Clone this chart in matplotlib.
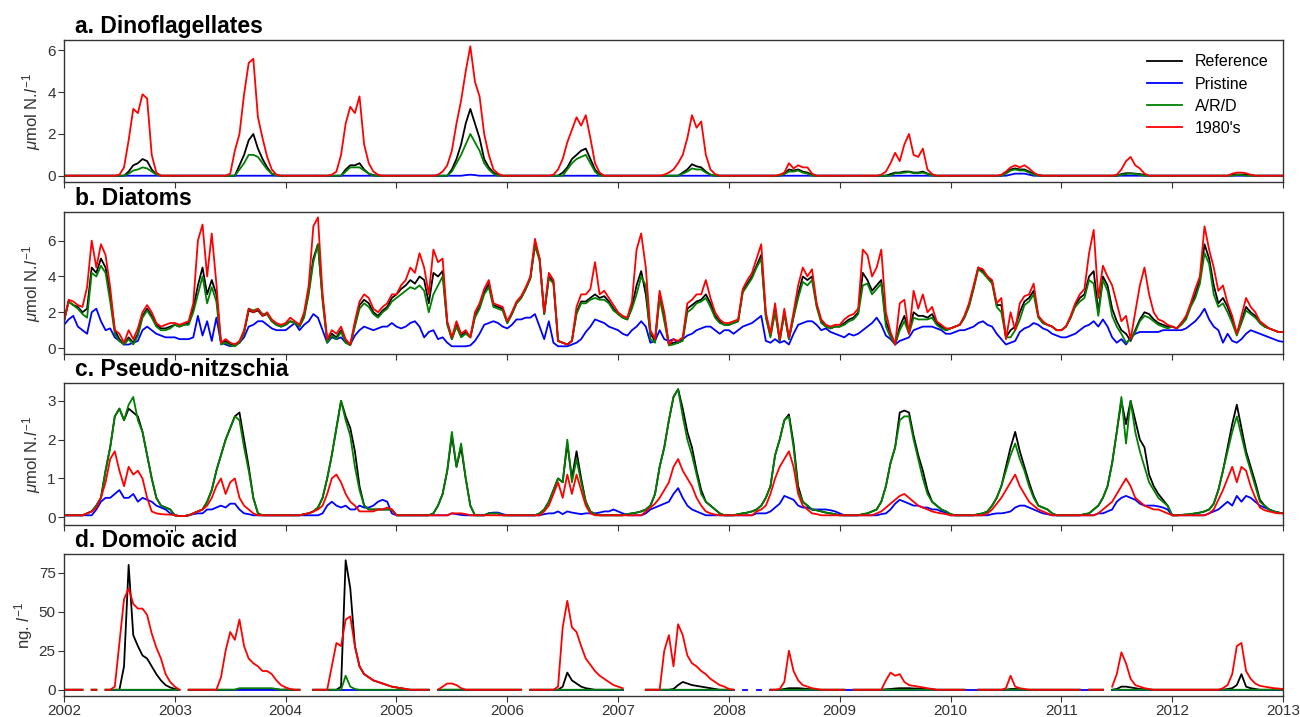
import numpy as np
import matplotlib
matplotlib.use('Agg')
import matplotlib.pyplot as plt

nan = float('nan')

# half-monthly samples, 2002.0 .. 2013.0 (265 points)
years = [2002, 2003, 2004, 2005, 2006, 2007, 2008, 2009, 2010, 2011, 2012, 2013]
series_labels = ['Reference', 'Pristine', 'A/R/D', "1980's"]
panel_titles = ['a. Dinoflagellates', 'b. Diatoms', 'c. Pseudo-nitzschia', 'd. Domoïc acid']

# ---------------- a. Dinoflagellates ----------------
dino_ref = [
 0,0,0,0,0,0,0,0,0,0,0,0,0,0, 0.2,0.5,0.6,0.8,0.7,0.3,0.05,0,0,0,
 0,0,0,0,0,0,0,0,0,0,0,0,0,0, 0.5,1.0,1.7,2.0,1.3,0.8,0.4,0.1,0.03,0,
 0,0,0,0,0,0,0,0,0,0,0,0,0, 0.3,0.5,0.5,0.6,0.3,0.1,0.03,0,0,0,0,
 0,0,0,0,0,0,0,0,0,0,0,0, 0.3,0.8,1.5,2.5,3.2,2.5,1.8,0.8,0.4,0.15,0.05,0,
 0,0,0,0,0,0,0,0,0,0,0,0, 0.15,0.4,0.8,1.0,1.2,1.3,0.8,0.3,0.05,0,0,0,
 0,0,0,0,0,0,0,0,0,0,0,0,0,0, 0.15,0.3,0.55,0.45,0.4,0.2,0.05,0,0,0,
 0,0,0,0,0,0,0,0,0,0,0,0, 0.1,0.3,0.25,0.3,0.2,0.15,0.05,0,0,0,0,0,
 0,0,0,0,0,0,0,0,0,0,0, 0.08,0.15,0.15,0.2,0.2,0.15,0.15,0.2,0.1,0.03,0,0,0,
 0,0,0,0,0,0,0,0,0,0,0,0, 0.15,0.3,0.35,0.3,0.3,0.2,0.1,0.03,0,0,0,0,
 0,0,0,0,0,0,0,0,0,0,0,0,0, 0.08,0.12,0.12,0.1,0.08,0.04,0,0,0,0,0,
 0,0,0,0,0,0,0,0,0,0,0,0,0, 0.05,0.06,0.06,0.05,0.03,0,0,0,0,0,0,0,
]
dino_pris = [
 0,0,0,0,0,0,0,0,0,0,0,0,0,0,0,0,0,0,0,0,0,0,0,0,
 0,0,0,0,0,0,0,0,0,0,0,0,0,0,0,0,0,0,0,0,0,0,0,0,
 0,0,0,0,0,0,0,0,0,0,0,0,0,0,0,0,0,0,0,0,0,0,0,0,
 0,0,0,0,0,0,0,0,0,0,0,0,0,0,0, 0.03,0.05,0.03, 0,0,0,0,0,0,
 0,0,0,0,0,0,0,0,0,0,0,0,0,0,0,0,0,0,0,0,0,0,0,0,
 0,0,0,0,0,0,0,0,0,0,0,0,0,0,0,0,0,0,0,0,0,0,0,0,
 0,0,0,0,0,0,0,0,0,0,0,0,0,0,0,0,0,0,0,0,0,0,0,0,
 0,0,0,0,0,0,0,0,0,0,0,0,0,0,0,0,0,0,0,0,0,0,0,0,
 0,0,0,0,0,0,0,0,0,0,0,0,0, 0.05,0.1,0.1,0.1,0.05, 0,0,0,0,0,0,
 0,0,0,0,0,0,0,0,0,0,0,0,0,0,0,0,0,0,0,0,0,0,0,0,
 0,0,0,0,0,0,0,0,0,0,0,0,0,0,0,0,0,0,0,0,0,0,0,0,0,
]
dino_ard = [
 0,0,0,0,0,0,0,0,0,0,0,0,0,0, 0.1,0.25,0.3,0.4,0.35,0.2,0.05,0,0,0,
 0,0,0,0,0,0,0,0,0,0,0,0,0,0, 0.3,0.6,1.0,1.0,0.9,0.6,0.3,0.1,0,0,
 0,0,0,0,0,0,0,0,0,0,0,0,0, 0.2,0.4,0.4,0.4,0.25,0.1,0,0,0,0,0,
 0,0,0,0,0,0,0,0,0,0,0,0, 0.2,0.6,1.0,1.5,2.0,1.6,1.2,0.6,0.3,0.1,0,0,
 0,0,0,0,0,0,0,0,0,0,0,0,0, 0.3,0.6,0.8,0.9,1.0,0.6,0.2,0,0,0,0,
 0,0,0,0,0,0,0,0,0,0,0,0,0,0, 0.1,0.2,0.35,0.3,0.3,0.15,0.05,0,0,0,
 0,0,0,0,0,0,0,0,0,0,0,0, 0.08,0.2,0.2,0.25,0.15,0.1,0,0,0,0,0,0,
 0,0,0,0,0,0,0,0,0,0,0,0, 0.12,0.12,0.15,0.18,0.12,0.12,0.15,0.08,0,0,0,0,
 0,0,0,0,0,0,0,0,0,0,0,0, 0.1,0.25,0.3,0.25,0.25,0.15,0.05,0,0,0,0,0,
 0,0,0,0,0,0,0,0,0,0,0,0,0, 0.05,0.08,0.1,0.08,0.05,0,0,0,0,0,0,
 0,0,0,0,0,0,0,0,0,0,0,0,0,0, 0.04,0.04, 0,0,0,0,0,0,0,0,0,
]
dino_1980 = [
 0,0,0,0,0,0,0,0,0,0,0,0, 0.05,0.4,1.7,3.2,3.0,3.9,3.7,1.0,0.15,0,0,0,
 0,0,0,0,0,0,0,0,0,0,0,0, 0.1,1.2,2.0,3.9,5.4,5.6,2.8,1.8,0.9,0.3,0.05,0,
 0,0,0,0,0,0,0,0,0,0, 0.05,0.2,1.0,2.5,3.3,3.0,3.8,1.5,0.6,0.2,0.05,0,0,0,
 0,0,0,0,0,0,0,0,0, 0.05,0.2,0.5,1.2,2.5,3.6,5.0,6.2,4.5,3.8,2.0,1.0,0.3,0.1,0,
 0,0,0,0,0,0,0,0,0,0, 0.05,0.3,0.8,1.6,2.2,2.8,2.4,2.9,1.8,0.6,0.15,0,0,0,
 0,0,0,0,0,0,0,0,0,0, 0.05,0.15,0.3,0.6,1.0,1.8,2.9,2.3,2.6,1.0,0.3,0.08,0,0,
 0,0,0,0,0,0,0,0,0,0,0, 0.05,0.15,0.6,0.35,0.5,0.4,0.4,0.1,0,0,0,0,0,
 0,0,0,0,0,0,0,0,0, 0.05,0.2,0.6,1.1,0.7,1.5,2.0,1.0,0.9,1.3,0.3,0.08,0,0,0,
 0,0,0,0,0,0,0,0,0,0,0, 0.05,0.2,0.4,0.5,0.4,0.5,0.35,0.15,0.03,0,0,0,0,
 0,0,0,0,0,0,0,0,0,0,0,0, 0.05,0.3,0.7,0.9,0.5,0.35,0.1,0,0,0,0,0,
 0,0,0,0,0,0,0,0,0,0,0,0,0, 0.1,0.15,0.15,0.12,0.05,0,0,0,0,0,0,0,
]

# ---------------- b. Diatoms ----------------
diat_ref = [
 1.5,2.6,2.4,2.3,2.0,2.2,4.5,4.2,5.0,4.5,3.0,1.0,0.5,0.2,0.6,0.3,0.8,1.8,2.2,1.8,1.3,1.1,1.1,1.2,
 1.3,1.2,1.3,1.4,2.2,3.5,4.5,3.0,3.8,3.0,0.3,0.4,0.2,0.2,0.3,0.9,2.1,2.0,2.1,1.8,1.9,1.5,1.3,1.2,
 1.3,1.5,1.4,1.2,1.8,3.2,5.0,5.8,2.8,0.4,0.8,0.6,1.0,0.4,0.2,1.3,2.4,2.7,2.5,2.0,1.8,2.1,2.3,2.8,
 3.0,3.3,3.5,3.8,3.6,4.0,3.8,2.5,4.2,4.0,4.3,1.4,0.5,1.3,0.7,0.9,0.6,1.8,2.3,3.1,3.6,2.4,2.3,2.2,
 1.4,1.9,2.5,2.8,3.3,3.9,5.8,5.0,1.9,4.0,3.7,0.4,0.3,0.2,0.4,2.0,2.6,2.6,2.8,3.0,2.8,2.9,2.6,2.2,
 1.9,1.7,1.6,2.3,3.5,4.3,3.0,0.8,0.4,3.0,1.8,0.2,0.3,0.3,0.5,2.2,2.4,2.6,2.7,3.0,2.5,1.8,1.5,1.3,
 1.3,1.4,1.5,3.2,3.6,4.0,4.6,5.2,1.8,0.7,2.2,0.4,2.0,0.5,1.8,3.0,4.0,3.8,4.0,2.4,1.5,1.2,1.1,1.2,
 1.2,1.4,1.6,1.7,2.0,4.2,3.8,3.2,3.5,3.8,1.5,0.8,0.2,1.2,1.8,0.9,2.0,1.8,1.8,1.7,1.9,1.4,1.2,1.0,
 1.1,1.2,1.3,1.7,2.4,3.4,4.5,4.3,4.0,3.7,2.4,2.4,0.6,1.0,1.2,2.0,2.6,2.8,3.2,1.8,1.4,1.3,1.2,1.0,
 1.0,1.2,1.7,2.4,2.8,3.0,4.0,4.3,2.0,4.0,3.5,2.2,1.5,1.0,0.8,0.4,1.0,1.6,2.0,1.9,1.6,1.4,1.3,1.2,
 1.2,1.1,1.4,1.7,2.4,3.0,3.8,5.8,5.0,3.5,2.5,2.8,2.3,1.6,0.8,1.5,2.3,2.0,1.8,1.4,1.2,1.1,1.0,0.9,0.9,
]
diat_pris = [
 1.3,1.6,1.8,1.2,1.0,0.8,2.0,2.2,1.5,1.0,1.1,0.6,0.4,0.2,0.2,0.3,0.4,1.0,1.2,1.0,0.8,0.7,0.6,0.6,
 0.6,0.5,0.5,0.5,0.6,1.8,0.7,1.5,0.4,1.7,0.3,0.2,0.1,0.2,0.3,0.6,1.2,1.3,1.5,1.5,1.3,1.1,1.0,1.0,
 1.0,1.2,1.4,1.0,1.3,1.5,1.9,1.7,1.0,0.3,0.6,0.5,0.6,0.3,0.2,0.7,1.0,1.2,1.1,1.0,1.1,1.2,1.2,1.4,
 1.2,1.1,1.2,1.4,1.5,1.2,0.6,0.9,1.0,0.5,0.6,0.3,0.1,0.1,0.1,0.1,0.15,0.4,0.8,1.3,1.4,1.5,1.4,1.2,
 1.1,1.3,1.6,1.6,1.7,1.7,1.9,1.2,0.5,1.5,0.3,0.1,0.1,0.1,0.2,0.3,0.5,0.9,1.2,1.6,1.5,1.4,1.2,1.1,
 1.0,0.8,0.7,1.0,1.2,1.5,1.2,0.3,0.4,1.0,0.5,0.4,0.5,0.3,0.5,0.7,0.8,1.0,1.1,1.2,1.2,1.0,0.8,1.0,
 1.0,0.8,1.0,1.2,1.3,1.4,1.6,1.8,0.4,0.3,0.5,0.3,0.4,0.2,0.8,1.3,1.4,1.5,1.5,1.3,1.0,1.1,0.9,0.8,
 0.7,0.6,0.8,0.7,0.8,1.0,1.2,1.4,1.7,1.3,0.7,0.5,0.2,0.4,0.5,0.6,1.0,1.1,1.2,1.2,1.2,1.1,1.0,0.8,
 0.8,0.9,1.0,1.0,1.1,1.2,1.4,1.5,1.3,1.2,0.8,0.5,0.2,0.3,0.4,0.9,1.1,1.2,1.4,1.3,1.1,1.0,0.8,0.7,
 0.6,0.6,0.7,0.8,1.0,1.2,1.3,1.5,1.2,1.6,1.2,0.6,0.3,0.5,0.2,0.6,0.8,0.9,0.9,0.9,0.9,0.9,1.0,1.0,
 1.0,1.0,1.0,1.1,1.3,1.5,1.8,2.2,1.6,1.2,1.0,0.3,0.8,0.4,0.3,0.5,0.8,1.0,0.9,0.8,0.7,0.6,0.5,0.4,0.35,
]
diat_ard = [
 1.5,2.6,2.4,2.2,1.9,1.7,4.2,4.0,4.6,4.2,2.6,0.8,0.4,0.2,0.5,0.2,0.7,1.7,2.1,1.7,1.2,1.0,1.0,1.1,
 1.3,1.2,1.3,1.3,2.0,3.0,4.0,2.5,3.4,2.6,0.2,0.3,0.15,0.1,0.3,0.8,2.2,2.1,2.2,1.9,1.9,1.5,1.3,1.2,
 1.3,1.5,1.4,1.2,1.7,3.0,4.8,5.8,2.6,0.3,0.7,0.5,0.9,0.3,0.15,1.2,2.2,2.5,2.3,1.9,1.7,2.0,2.2,2.6,
 2.8,3.0,3.2,3.4,3.3,3.5,3.2,2.0,3.0,3.5,4.0,1.3,0.5,1.2,0.6,0.8,0.6,1.7,2.2,3.0,3.4,2.3,2.2,2.1,
 1.4,1.9,2.5,2.8,3.3,3.9,5.7,4.9,1.9,3.9,3.6,0.4,0.3,0.2,0.4,1.9,2.5,2.5,2.7,2.8,2.7,2.7,2.5,2.1,
 1.9,1.7,1.6,2.2,3.0,4.0,3.5,0.5,0.3,2.8,1.5,0.15,0.2,0.3,0.4,2.0,2.2,2.5,2.6,2.8,2.3,1.7,1.4,1.3,
 1.3,1.4,1.5,3.1,3.5,3.9,4.5,5.0,1.7,0.6,2.0,0.4,1.9,0.5,1.7,2.8,3.7,3.5,3.8,2.3,1.4,1.2,1.1,1.2,
 1.2,1.3,1.5,1.6,1.9,3.5,3.6,3.0,3.3,3.6,1.2,0.6,0.2,1.0,1.5,0.8,1.7,1.6,1.6,1.6,1.7,1.3,1.1,1.0,
 1.1,1.2,1.3,1.7,2.3,3.3,4.4,4.2,3.9,3.6,2.3,2.0,0.6,0.6,1.0,1.6,2.4,2.6,3.0,1.7,1.4,1.3,1.2,1.0,
 1.0,1.2,1.7,2.3,2.6,2.8,3.8,3.6,1.8,3.8,3.2,1.8,1.2,0.8,0.3,0.5,0.9,1.5,1.8,1.7,1.5,1.3,1.2,1.1,
 1.2,1.1,1.3,1.6,2.3,2.8,3.6,5.3,4.7,3.0,2.3,2.5,2.0,1.4,0.7,1.4,2.1,1.9,1.7,1.4,1.2,1.1,1.0,0.9,0.9,
]
diat_1980 = [
 1.5,2.7,2.6,2.4,2.3,3.4,6.0,4.5,5.8,5.2,3.4,1.0,0.8,0.3,1.0,0.5,1.1,2.0,2.4,2.0,1.4,1.2,1.3,1.4,
 1.4,1.3,1.4,1.5,2.5,6.0,6.9,4.0,6.4,3.6,0.3,0.5,0.3,0.2,0.4,1.0,2.2,2.0,2.2,1.8,2.0,1.6,1.4,1.3,
 1.4,1.7,1.5,1.3,2.0,3.5,6.8,7.3,3.0,0.5,1.0,0.8,1.2,0.5,0.2,1.5,2.6,3.0,2.8,2.2,2.0,2.3,2.5,3.0,
 3.0,3.5,3.8,4.5,4.2,5.3,4.5,3.0,5.5,4.8,5.0,1.5,0.6,1.5,0.8,1.0,0.6,2.0,2.5,3.3,3.8,2.5,2.4,2.3,
 1.5,2.0,2.6,2.9,3.4,4.0,6.1,5.0,2.0,4.2,3.8,0.4,0.3,0.2,0.4,2.3,3.0,3.0,3.3,4.8,3.0,3.2,2.8,2.4,
 2.0,1.8,1.7,2.6,5.5,6.4,4.5,1.0,0.5,3.2,2.0,0.2,0.5,0.4,0.6,2.5,2.7,3.0,3.0,3.8,2.8,2.0,1.6,1.4,
 1.4,1.5,1.6,3.3,3.8,4.2,5.0,5.8,2.0,0.8,2.5,0.5,2.2,0.6,2.0,3.5,4.5,4.0,4.4,2.5,1.6,1.3,1.2,1.3,
 1.3,1.6,1.8,1.9,2.2,5.5,5.2,4.0,4.5,5.5,2.0,0.9,0.2,2.5,2.7,0.8,3.2,2.2,3.0,2.0,2.3,1.5,1.3,1.1,
 1.1,1.2,1.3,1.8,2.5,3.5,4.5,4.4,4.0,3.8,2.5,2.8,0.5,2.0,1.0,2.5,2.9,3.0,3.6,1.8,1.5,1.3,1.2,1.0,
 1.0,1.2,1.8,2.5,3.0,3.3,5.3,6.6,2.8,4.6,4.0,3.5,2.5,1.5,1.8,0.5,2.0,3.5,4.5,3.0,2.0,1.6,1.5,1.3,
 1.2,1.1,1.4,1.8,2.5,3.3,4.0,6.8,5.5,4.5,3.2,3.5,2.5,1.8,0.8,1.8,2.8,2.3,2.0,1.5,1.3,1.1,1.0,0.9,0.9,
]

# ---------------- c. Pseudo-nitzschia ----------------
pn_ref = [
 0.05,0.05,0.05,0.05,0.05,0.1,0.15,0.3,0.5,1.2,1.8,2.6,2.8,2.5,2.8,2.7,2.6,2.2,1.6,1.0,0.5,0.3,0.25,0.2,
 0.05,0.03,0.03,0.05,0.1,0.15,0.2,0.4,0.7,1.2,1.6,2.0,2.3,2.6,2.7,2.0,1.3,0.5,0.1,0.05,0.05,0.05,0.05,0.05,
 0.05,0.05,0.05,0.05,0.08,0.1,0.15,0.25,0.5,1.0,1.6,2.3,3.0,2.6,2.3,1.7,0.8,0.3,0.2,0.2,0.2,0.2,0.2,0.2,
 0.05,0.05,0.05,0.05,0.05,0.05,0.05,0.05,0.1,0.3,0.6,1.2,2.1,1.3,1.8,1.0,0.3,0.05,0.05,0.05,0.1,0.1,0.1,0.05,
 0.05,0.05,0.05,0.05,0.05,0.05,0.05,0.1,0.2,0.4,0.7,1.0,0.9,1.9,1.0,1.7,1.0,0.4,0.15,0.08,0.05,0.05,0.05,0.05,
 0.05,0.05,0.08,0.1,0.12,0.15,0.2,0.3,0.6,1.3,1.8,2.5,3.1,3.3,2.8,2.2,1.8,1.2,0.7,0.4,0.3,0.2,0.1,0.05,
 0.05,0.05,0.08,0.1,0.12,0.15,0.2,0.3,0.5,0.8,1.6,2.0,2.5,2.65,1.9,0.8,0.4,0.3,0.2,0.18,0.15,0.12,0.1,0.08,
 0.05,0.05,0.05,0.05,0.05,0.08,0.1,0.15,0.2,0.4,0.8,1.4,1.8,2.7,2.75,2.7,2.1,1.6,1.2,0.7,0.4,0.3,0.2,0.15,
 0.08,0.05,0.05,0.05,0.05,0.05,0.08,0.1,0.15,0.3,0.5,0.8,1.3,1.8,2.2,1.7,1.3,0.9,0.55,0.3,0.25,0.2,0.1,0.05,
 0.05,0.05,0.05,0.05,0.05,0.08,0.1,0.2,0.3,0.5,0.8,1.4,2.2,3.0,2.4,3.0,2.5,2.0,1.8,1.1,0.8,0.6,0.45,0.3,
 0.05,0.05,0.06,0.07,0.08,0.1,0.12,0.15,0.2,0.35,0.7,1.2,1.8,2.4,2.9,2.3,1.7,1.3,0.9,0.45,0.3,0.2,0.15,0.12,0.1,
]
pn_pris = [
 0.05,0.05,0.05,0.05,0.05,0.05,0.05,0.2,0.4,0.5,0.5,0.6,0.7,0.5,0.5,0.6,0.4,0.5,0.45,0.4,0.3,0.25,0.2,0.1,
 0.05,0.03,0.03,0.05,0.08,0.1,0.1,0.2,0.2,0.25,0.3,0.25,0.35,0.35,0.2,0.1,0.08,0.05,0.05,0.05,0.05,0.05,0.05,0.05,
 0.05,0.05,0.05,0.05,0.05,0.05,0.05,0.05,0.1,0.3,0.4,0.3,0.25,0.3,0.2,0.2,0.3,0.25,0.25,0.3,0.4,0.45,0.4,0.1,
 0.05,0.05,0.05,0.05,0.05,0.05,0.05,0.05,0.05,0.05,0.05,0.05,0.1,0.08,0.06,0.05,0.05,0.05,0.05,0.05,0.1,0.12,0.12,0.08,
 0.05,0.05,0.05,0.05,0.05,0.05,0.05,0.05,0.08,0.1,0.1,0.15,0.08,0.15,0.12,0.1,0.08,0.1,0.1,0.1,0.12,0.15,0.15,0.2,
 0.15,0.1,0.05,0.05,0.05,0.05,0.1,0.2,0.25,0.3,0.35,0.4,0.6,0.75,0.5,0.3,0.2,0.15,0.1,0.05,0.05,0.05,0.05,0.05,
 0.05,0.05,0.05,0.05,0.05,0.05,0.1,0.1,0.1,0.15,0.25,0.35,0.55,0.5,0.45,0.3,0.25,0.25,0.2,0.2,0.2,0.2,0.18,0.15,
 0.1,0.05,0.05,0.05,0.05,0.05,0.05,0.05,0.05,0.08,0.1,0.2,0.35,0.45,0.4,0.35,0.3,0.3,0.25,0.25,0.2,0.2,0.15,0.12,
 0.05,0.05,0.05,0.05,0.05,0.05,0.05,0.05,0.05,0.08,0.1,0.1,0.12,0.15,0.25,0.3,0.3,0.25,0.2,0.15,0.1,0.08,0.05,0.05,
 0.05,0.05,0.05,0.05,0.05,0.05,0.05,0.05,0.1,0.1,0.15,0.2,0.4,0.5,0.55,0.5,0.45,0.35,0.3,0.3,0.3,0.28,0.25,0.2,
 0.05,0.05,0.05,0.05,0.05,0.05,0.05,0.05,0.1,0.15,0.2,0.3,0.4,0.3,0.55,0.4,0.55,0.5,0.4,0.3,0.25,0.2,0.15,0.12,0.1,
]
pn_ard = [
 0.05,0.05,0.05,0.05,0.05,0.1,0.15,0.3,0.5,1.2,1.8,2.6,2.8,2.5,2.9,3.1,2.5,2.2,1.6,1.0,0.5,0.3,0.25,0.2,
 0.05,0.03,0.03,0.05,0.1,0.15,0.2,0.4,0.7,1.2,1.6,2.0,2.3,2.6,2.5,1.8,1.2,0.5,0.1,0.05,0.05,0.05,0.05,0.05,
 0.05,0.05,0.05,0.05,0.08,0.1,0.15,0.25,0.5,1.0,1.6,2.3,3.0,2.5,2.1,1.3,0.7,0.3,0.2,0.2,0.2,0.2,0.2,0.2,
 0.05,0.05,0.05,0.05,0.05,0.05,0.05,0.05,0.1,0.3,0.6,1.2,2.2,1.3,1.9,1.0,0.3,0.05,0.05,0.05,0.1,0.1,0.1,0.05,
 0.05,0.05,0.05,0.05,0.05,0.05,0.05,0.1,0.2,0.4,0.7,1.0,0.9,2.0,0.9,1.5,0.9,0.4,0.15,0.08,0.05,0.05,0.05,0.05,
 0.05,0.05,0.08,0.1,0.12,0.15,0.2,0.3,0.6,1.3,1.8,2.5,3.1,3.3,2.6,2.0,1.6,1.1,0.6,0.4,0.3,0.2,0.1,0.05,
 0.05,0.05,0.08,0.1,0.12,0.15,0.2,0.3,0.5,0.8,1.6,2.0,2.5,2.6,1.8,0.7,0.4,0.3,0.2,0.18,0.15,0.12,0.1,0.08,
 0.05,0.05,0.05,0.05,0.05,0.08,0.1,0.15,0.2,0.4,0.8,1.4,1.8,2.5,2.6,2.6,2.0,1.5,1.0,0.6,0.4,0.3,0.2,0.15,
 0.08,0.05,0.05,0.05,0.05,0.05,0.08,0.1,0.15,0.3,0.5,0.8,1.2,1.6,1.9,1.5,1.2,0.8,0.5,0.3,0.25,0.2,0.1,0.05,
 0.05,0.05,0.05,0.05,0.05,0.08,0.1,0.2,0.3,0.5,0.8,1.4,2.2,3.1,1.9,3.0,2.2,1.7,1.3,0.9,0.7,0.5,0.4,0.3,
 0.05,0.05,0.06,0.07,0.08,0.1,0.12,0.15,0.2,0.35,0.7,1.2,1.7,2.2,2.6,2.1,1.6,1.2,0.8,0.4,0.3,0.2,0.15,0.12,0.1,
]
pn_1980 = [
 0.05,0.05,0.05,0.05,0.05,0.1,0.15,0.25,0.5,0.9,1.5,1.7,1.2,0.8,1.3,1.1,1.2,1.0,0.5,0.15,0.1,0.08,0.07,0.07,
 0.05,0.03,0.03,0.05,0.1,0.15,0.2,0.3,0.5,0.8,1.0,0.6,0.9,1.0,0.5,0.3,0.2,0.1,0.05,0.05,0.05,0.05,0.05,0.05,
 0.05,0.05,0.05,0.05,0.08,0.1,0.15,0.2,0.3,0.6,1.0,1.1,0.9,0.6,0.4,0.3,0.15,0.15,0.15,0.15,0.2,0.2,0.25,0.2,
 0.05,0.05,0.05,0.05,0.05,0.05,0.05,0.05,0.05,0.05,0.05,0.05,0.1,0.1,0.1,0.08,0.05,0.05,0.05,0.05,0.05,0.05,0.05,0.05,
 0.05,0.05,0.05,0.05,0.05,0.05,0.05,0.05,0.15,0.3,0.6,0.9,0.5,1.1,0.6,1.1,0.7,0.3,0.1,0.05,0.05,0.05,0.05,0.05,
 0.05,0.05,0.05,0.05,0.05,0.05,0.15,0.25,0.35,0.5,0.7,0.9,1.3,1.5,1.2,1.0,0.8,0.5,0.3,0.15,0.1,0.07,0.05,0.05,
 0.05,0.05,0.05,0.05,0.05,0.05,0.15,0.2,0.3,0.6,1.0,1.3,1.5,1.7,1.3,0.6,0.3,0.2,0.1,0.08,0.05,0.05,0.05,0.05,
 0.05,0.05,0.05,0.05,0.05,0.05,0.05,0.05,0.1,0.15,0.25,0.35,0.45,0.55,0.6,0.5,0.4,0.3,0.25,0.2,0.15,0.12,0.1,0.08,
 0.05,0.05,0.05,0.05,0.05,0.05,0.05,0.05,0.1,0.2,0.35,0.5,0.7,0.9,1.1,0.8,0.6,0.4,0.3,0.2,0.15,0.1,0.05,0.05,
 0.05,0.05,0.05,0.05,0.05,0.05,0.05,0.05,0.1,0.2,0.3,0.4,0.6,0.8,1.0,0.8,0.5,0.4,0.3,0.25,0.2,0.2,0.15,0.1,
 0.05,0.05,0.05,0.05,0.05,0.05,0.05,0.05,0.1,0.2,0.45,0.7,1.0,1.3,0.9,1.3,1.2,0.8,0.5,0.25,0.18,0.15,0.12,0.1,0.1,
]

# ---------------- d. Domoic acid (nan = no value) ----------------
da_ref = [
 0,0,0,0,0,nan,0,0,nan,0,0,0, 0,15,80,35,28,22,20,15,10,6,3,1.5,
 0.5,0,nan,0,0,0,0,0,0,0,0,0,0,0, 0.5,0.5,0.5,0.5,0.5,0.5,0.5,0.5,0.3,0,
 0.2,0,0,0,nan,nan,0,0,0,0,0,0, 2,83,65,28,15,10,8,6,5,4,3,2,
 1.5,1,0.5,0,0,0,0,0,nan,0,0,0,0,0,0,0,0,0,0,0,0,0,0,0,
 0,0,0,0,nan,0,0,0,0,0,0,0, 2,11,6,4,2,1,0.5,0,0,0,0,0,
 0,0,nan,nan,nan,nan,0,0,0,0,0,0, 0.5,3,5,4,3,2.5,2,1.5,1,0.5,0,0,
 0,0,nan,nan,nan,nan,nan,nan,nan,0,0,0, 0.5,1,1,1,0.8,0.5,0.3,0,0,0,0,0,
 0,0,nan,0,0,0,0,0,0,0, 0.3,0.5,0.8,1,1,1,0.8,0.8,0.6,0.5,0.3,0,0,0,
 0,0,0,0,nan,nan,0,0,0,0,0,0,0, 0.5,0.5,0.3,0,0,0,0,0,0,0,0,
 0,0,0,0,0,nan,0,0,0,0,nan,0, 0.5,2,2,1.5,1,0.5,0.3,0,0,0,0,0,
 0,0,0,0,0,0,0,0,0,0,0,0, 0.5,1,3,10,2,1,0.5,0,0,0,0,0,0,
]
da_pris = [
 0,0,0,0,0,nan,0,0,nan,0,0,0,0,0,0,0,0,0,0,0,0,0,0,0,
 0,0,nan,0,0,0,0,0,0,0,0,0,0,0,0,0,0,0,0,0,0,0,0,0,
 0,0,0,0,nan,nan,0,0,0,0,0,0,0,0,0,0,0,0,0,0,0,0,0,0,
 0,0,0,0,0,0,0,0,nan,0,0,0,0,0,0,0,0,0,0,0,0,0,0,0,
 0,0,0,0,nan,0,0,0,0,0,0,0,0,0,0,0,0,0,0,0,0,0,0,0,
 0,0,nan,nan,nan,nan,0,0,0,0,0,0,0,0,0,0,0,0,0,0,0,0,0,0,
 0,0,nan,0,0,nan,0,0,nan,0,0,0,0,0,0,0,0,0,0,0,0,0,0,0,
 0,0,0,0,0,0,0,0,0,0,0,0,0,0,0,0,0,0,0,0,0,0,0,0,
 0,0,0,0,0,0,0,0,0,0,0,0,0,0,0,0,0,0,0,0,0,0,0,0,
 0,0,0,0,0,0,0,0,0,0,nan,0,0,0,0,0,0,0,0,0,0,0,0,0,
 0,0,0,0,0,0,0,0,0,0,0,0,0,0,0,0,0,0,0,0,0,0,0,0,0,
]
da_ard = [
 0,0,0,0,0,nan,0,0,nan,0,0,0,0,0,0,0,0,0,0,0,0,0,0,0,
 0,0,nan,0,0,0,0,0,0,0,0,0,0,0, 1,1,1,1,1,1,1,1,0.5,0,
 0,0,0,0,nan,nan,0,0,0,0,0,0,0, 9,2,0.5,0,0,0,0,0,0,0,0,
 0,0,0,0,0,0,0,0,nan,0,0,0,0,0,0,0,0,0,0,0,0,0,0,0,
 0,0,0,0,nan,0,0,0,0,0,0,0,0,0,0,0,0,0,0,0,0,0,0,0,
 0,0,nan,nan,nan,nan,0,0,0,0,0,0,0,0,0,0,0,0,0,0,0,0,0,0,
 0,0,nan,nan,nan,nan,nan,nan,nan,0,0,0,0,0,0,0,0,0,0,0,0,0,0,0,
 0,0,nan,0,0,0,0,0,0,0,0,0,0,0,0,0,0,0,0,0,0,0,0,0,
 0,0,0,0,nan,nan,0,0,0,0,0,0,0,0,0,0,0,0,0,0,0,0,0,0,
 0,0,0,0,0,nan,0,0,0,0,nan,0,0,0,0,0,0,0,0,0,0,0,0,0,
 0,0,0,0,0,0,0,0,0,0,0,0,0,0,0,0,0,0,0,0,0,0,0,0,0,
]
da_1980 = [
 0,0,0,0,0,nan,0,0,nan,0,0, 2,30,58,65,55,52,52,48,36,27,20,10,5,
 2,0,nan,0,0,0,0,0,0,0, 8,25,37,32,45,28,20,17,15,12,12,10,6,3,
 1.5,0.5,0,0,nan,nan,0,0,0,0, 15,30,28,45,47,28,15,10,8,6,5,4,3,2,
 1.5,1,0.5,0,0,0,0,0,nan,0, 2,4,4,3,1, 0,0,0,0,0,0,0,0,0,
 0,0,0,0,nan,0,0,0,0,0,0, 2,40,57,40,37,28,20,16,12,9,7,5,3,
 2,1,nan,nan,nan,nan,0,0,0,0, 25,35,15,42,35,22,17,15,12,10,7,5,3,2,
 0.5,0,nan,nan,nan,nan,nan,nan,nan,0,0, 0.5,5,25,12,6,3,2,1,0.5,0,0,0,0,
 0,0,nan,0,0,0,0,0,0,0, 6,11,9,10,5,3,2.5,2,1.5,1,0.5,0,0,0,
 0,0,0,0,nan,nan,0,0,0,0,0,0, 1,9,2,1,0.5,0,0,0,0,0,0,0,
 0,0,0,0,0,nan,0,0,0,0,nan, 2,10,24,17,7,3,2,1,0.5,0,0,0,0,
 0,0,0,0,0,0,0,0,0,0,0, 1,3,10,28,30,12,7,4,2.5,2,1.5,1,0.8,0.5,
]

n_pts = 265
for name, arr in [('dino_ref', dino_ref), ('dino_pris', dino_pris), ('dino_ard', dino_ard), ('dino_1980', dino_1980),
                  ('diat_ref', diat_ref), ('diat_pris', diat_pris), ('diat_ard', diat_ard), ('diat_1980', diat_1980),
                  ('pn_ref', pn_ref), ('pn_pris', pn_pris), ('pn_ard', pn_ard), ('pn_1980', pn_1980),
                  ('da_ref', da_ref), ('da_pris', da_pris), ('da_ard', da_ard), ('da_1980', da_1980)]:
    assert len(arr) == n_pts, (name, len(arr))

t = 2002 + np.arange(n_pts) / 24.0

plt.rcParams['font.family'] = ['Liberation Sans', 'DejaVu Sans']
plt.rcParams['mathtext.fontset'] = 'custom'
plt.rcParams['mathtext.rm'] = 'Liberation Sans'
plt.rcParams['mathtext.it'] = 'Liberation Sans:italic'

fig = plt.figure(figsize=(13.0, 7.17), dpi=100)

left, width = 64 / 1300, (1283 - 64) / 1300
tops = [40, 212, 383, 554]
h = 142
colors = ['#000000', '#0000ff', '#008000', '#ff0000']

panels = [
    (panel_titles[0], r'$\mu$mol N.$l^{-1}$', (-0.3, 6.5), [0, 2, 4, 6], [dino_ref, dino_pris, dino_ard, dino_1980]),
    (panel_titles[1], r'$\mu$mol N.$l^{-1}$', (-0.33, 7.6), [0, 2, 4, 6], [diat_ref, diat_pris, diat_ard, diat_1980]),
    (panel_titles[2], r'$\mu$mol N.$l^{-1}$', (-0.2, 3.46), [0, 1, 2, 3], [pn_ref, pn_pris, pn_ard, pn_1980]),
    (panel_titles[3], r'ng. $l^{-1}$', (-4, 87), [0, 25, 50, 75], [da_ref, da_pris, da_ard, da_1980]),
]

axes = []
for i, (title, ylab, ylim, yt, data) in enumerate(panels):
    bottom = 1 - (tops[i] + h) / 717
    ax = fig.add_axes([left, bottom, width, h / 717])
    axes.append(ax)
    for s, c, lab in zip(data, colors, series_labels):
        ax.plot(t, np.array(s, dtype=float), color=c, lw=1.3, label=lab)
    ax.set_xlim(years[0], years[-1])
    ax.set_ylim(*ylim)
    ax.set_yticks(yt)
    ax.set_xticks(years)
    ax.set_xticklabels([str(y) for y in years])
    ax.tick_params(axis='both', direction='out', length=4, width=0.8,
                   colors='#333333', labelsize=11, pad=2)
    if i < 3:
        ax.tick_params(axis='x', labelbottom=False)
    for sp in ax.spines.values():
        sp.set_color('#333333')
        sp.set_linewidth(1.0)
    ax.set_ylabel(ylab, fontsize=12, color='#333333', labelpad=3)
    ax.text(0.009, 1.05, title, transform=ax.transAxes, fontsize=16.5,
            fontweight='bold', ha='left', va='baseline', color='black')

axes[0].legend(loc='upper right', frameon=False, fontsize=11.5,
               handlelength=2.2, labelspacing=0.45, borderaxespad=0.5)

fig.savefig('out.png', dpi=100)
